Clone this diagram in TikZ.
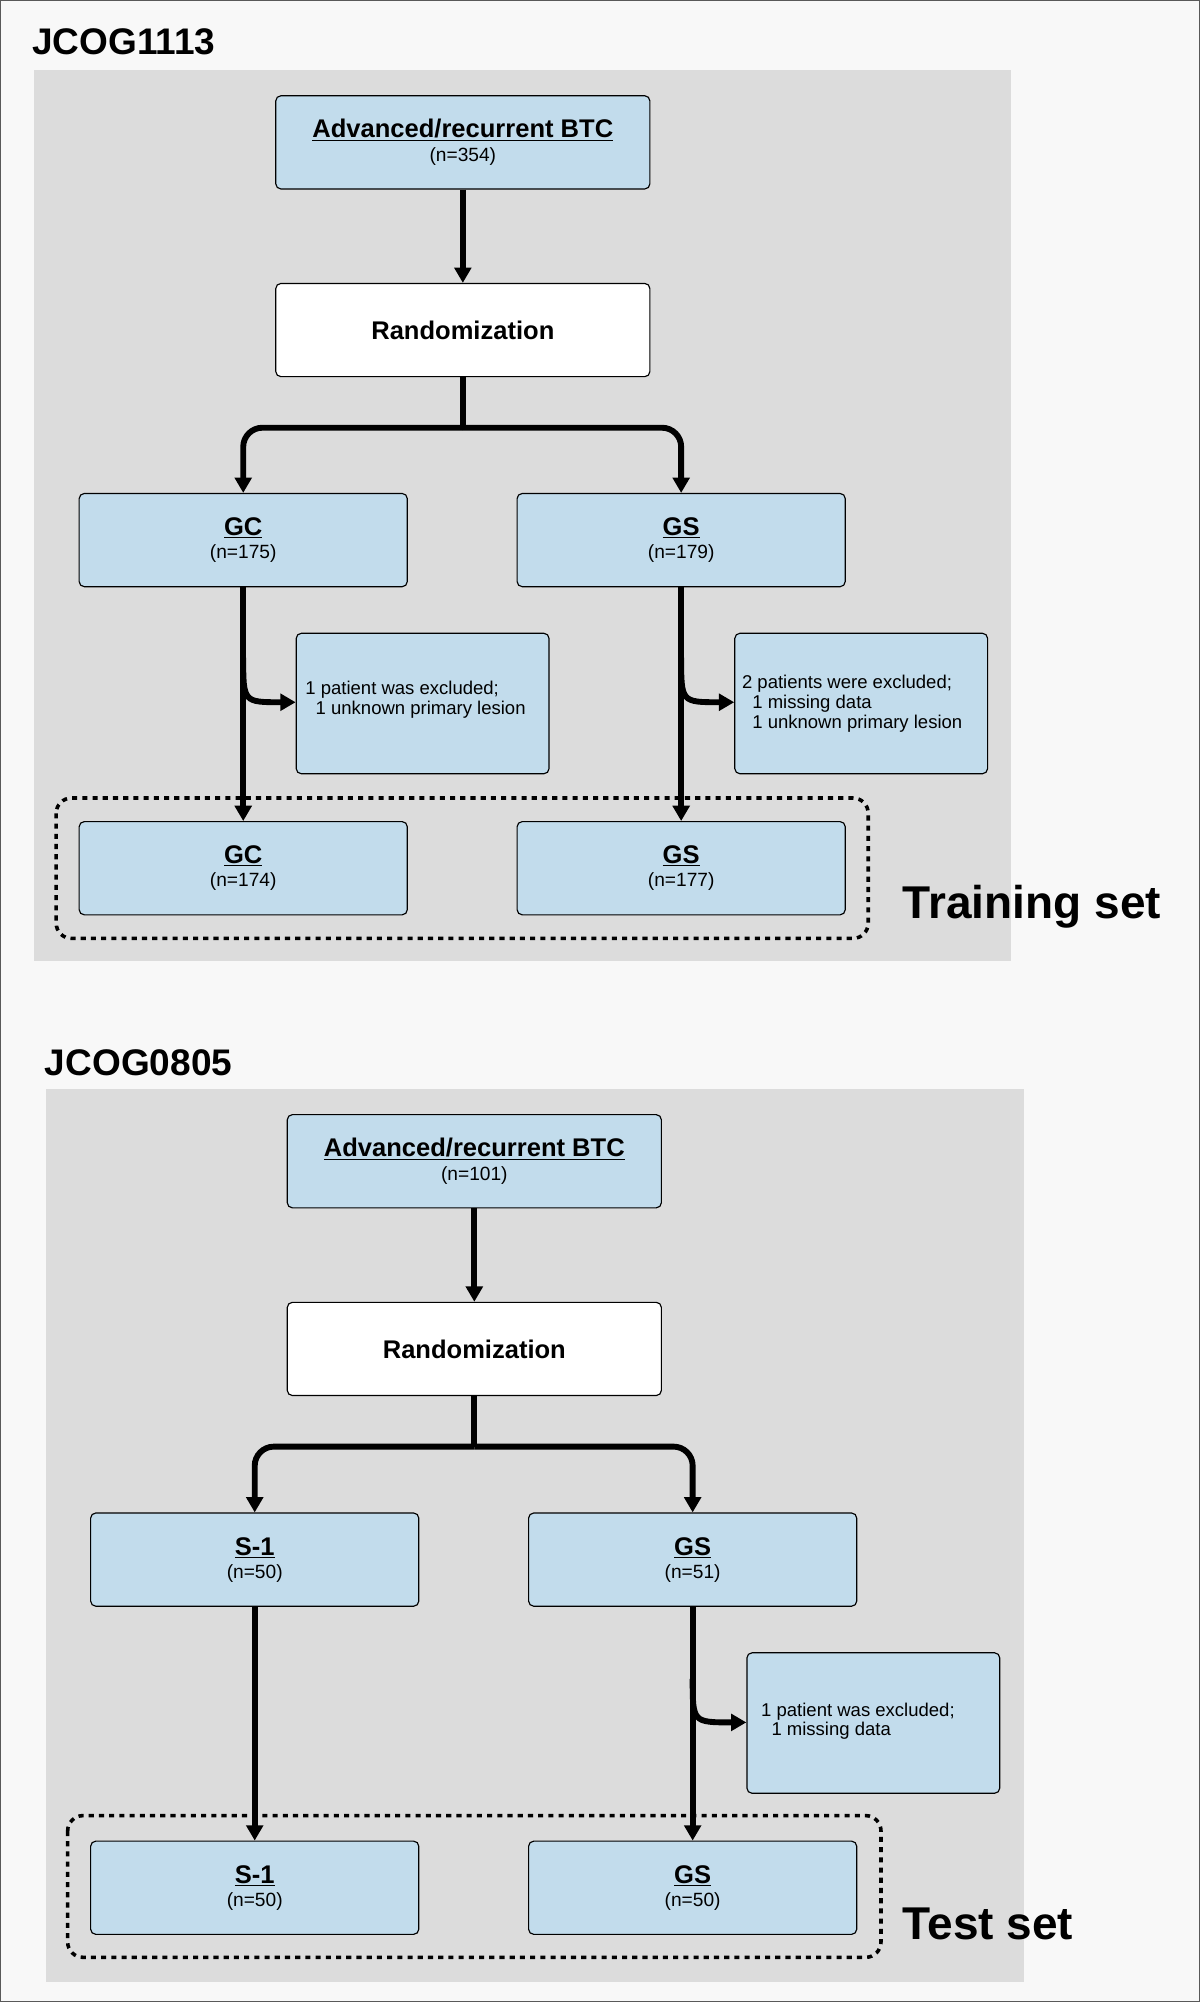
\documentclass[tikz,border=0pt]{standalone}
\usepackage{fontspec}
\setmainfont{Liberation Sans}
\usetikzlibrary{arrows.meta}
\definecolor{boxblue}{HTML}{C2DCEC}
\definecolor{panel}{HTML}{DCDCDC}
\definecolor{page}{HTML}{F8F8F8}
\begin{document}
\begin{tikzpicture}[x=1pt,y=-1pt,
  box/.style={draw=black,line width=0.9pt,rounded corners=4pt,fill=boxblue,minimum width=257pt,minimum height=73pt,align=center,inner sep=0pt},
  wbox/.style={box,fill=white,minimum width=293pt},
  tbox/.style={box,minimum width=293pt},
  ex/.style={draw=black,line width=0.9pt,rounded corners=4pt,fill=boxblue,minimum width=198pt,minimum height=110pt,inner sep=0pt},
  extext/.style={align=left,anchor=west,font=\fontsize{14.5}{15.5}\selectfont,inner sep=0pt},
  arr/.style={line width=4.6pt,-{Triangle[length=12pt,width=13pt]},rounded corners=15pt},
  ln/.style={line width=4.6pt},
  set/.style={draw=black,line width=2.8pt,dash pattern=on 4pt off 4pt,rounded corners=12pt},
  ttl/.style={font=\bfseries\fontsize{29}{31}\selectfont,anchor=west,inner sep=0pt},
  big/.style={font=\bfseries\fontsize{36}{38}\selectfont,anchor=west,inner sep=0pt}]
\useasboundingbox (0,0) rectangle (940,1568);
\fill[page,draw=gray!70!black,line width=1pt] (0.5,0.5) rectangle (939.5,1567.5);
\newcommand{\bx}[2]{{\fontsize{20}{22}\bfseries\selectfont\underline{#1}}\\[4pt]{\fontsize{15}{17}\selectfont #2}}
% ---------- panel 1
\node[ttl] (t1) at (25,33) {JCOG1113};
\fill[panel] (27,55) rectangle (792,753);
\node[tbox] (a1) at (362.5,111.5) {\bx{Advanced/recurrent BTC}{(n=354)}};
\node[wbox] (r1) at (362.5,258.5) {\fontsize{20}{22}\bfseries\selectfont Randomization};
\node[box] (gc1) at (190.5,423) {\bx{GC}{(n=175)}};
\node[box] (gs1) at (533.5,423) {\bx{GS}{(n=179)}};
\node[ex] (e1) at (331,551) {};
\node[extext] (e1t) at (239,548) {1 patient was excluded;\\\ \ 1 unknown primary lesion};
\node[ex] (e2) at (674.5,551) {};
\node[extext] (e2t) at (581,551) {2 patients were excluded;\\\ \ 1 missing data\\\ \ 1 unknown primary lesion};
\draw[set] (44,625) rectangle (680,735);
\node[box] (gc2) at (190.5,680) {\bx{GC}{(n=174)}};
\node[box] (gs2) at (533.5,680) {\bx{GS}{(n=177)}};
\node[big] (tr) at (707,710) {Training set};
\coordinate (s1) at (362.5,335);
\draw[arr] (a1.south) -- (r1.north);
\draw[ln] (r1.south) -- (s1);
\draw[arr] (s1) -- (190.5,335) -- (gc1.north);
\draw[arr] (s1) -- (533.5,335) -- (gs1.north);
\draw[arr] (gc1.south) -- (gc2.north);
\draw[arr] (gs1.south) -- (gs2.north);
\draw[ln,-{Triangle[length=12pt,width=13pt]}] (190.5,515) .. controls (190.5,550) .. (e1.west |- 0,550);
\draw[ln,-{Triangle[length=12pt,width=13pt]}] (533.5,515) .. controls (533.5,550) .. (e2.west |- 0,550);
% ---------- panel 2
\node[ttl] (t2) at (35,832) {JCOG0805};
\fill[panel] (36,853) rectangle (802,1552);
\node[tbox] (a2) at (371.5,909.5) {\bx{Advanced/recurrent BTC}{(n=101)}};
\node[wbox] (r2) at (371.5,1056.5) {\fontsize{20}{22}\bfseries\selectfont Randomization};
\node[box] (s11) at (199.5,1221.5) {\bx{S-1}{(n=50)}};
\node[box] (gs3) at (542.5,1221.5) {\bx{GS}{(n=51)}};
\node[ex] (e3) at (684,1349.5) {};
\node[extext] (e3t) at (596,1348) {1 patient was excluded;\\\ \ 1 missing data};
\draw[set] (53,1422) rectangle (690,1533);
\node[box] (s12) at (199.5,1478.5) {\bx{S-1}{(n=50)}};
\node[box] (gs4) at (542.5,1478.5) {\bx{GS}{(n=50)}};
\node[big] (te) at (707,1507) {Test set};
\coordinate (s2) at (371.5,1133);
\draw[arr] (a2.south) -- (r2.north);
\draw[ln] (r2.south) -- (s2);
\draw[arr] (s2) -- (199.5,1133) -- (s11.north);
\draw[arr] (s2) -- (542.5,1133) -- (gs3.north);
\draw[arr] (s11.south) -- (s12.north);
\draw[arr] (gs3.south) -- (gs4.north);
\draw[ln,-{Triangle[length=12pt,width=13pt]}] (542.5,1315) .. controls (542.5,1349) .. (e3.west |- 0,1349);
\end{tikzpicture}
\end{document}
